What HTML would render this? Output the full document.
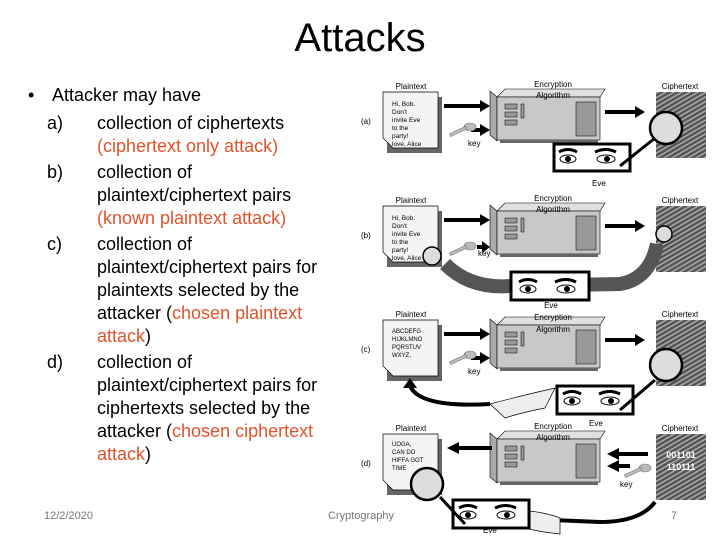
<!DOCTYPE html>
<html><head><style>
body{margin:0;width:720px;height:540px;background:#fff;overflow:hidden;font-family:"Liberation Sans",sans-serif}
</style></head><body>
<svg width="720" height="540" xmlns="http://www.w3.org/2000/svg" font-family="Liberation Sans, sans-serif">
<defs>
<pattern id="cp" width="4" height="4" patternUnits="userSpaceOnUse" patternTransform="rotate(-30)">
<rect width="4" height="4" fill="#555"/><rect width="4" height="1.5" fill="#aaa"/></pattern>
<g id="mach">
<polygon points="497,97 505,89 605,89 600,97" fill="#e0e0e0" stroke="#000" stroke-width="0.6"/>
<polygon points="497,97 490,91 490,135 497,141" fill="#aaa" stroke="#000" stroke-width="0.6"/>
<rect x="497" y="97" width="103" height="43" fill="#c8c8c8" stroke="#000" stroke-width="0.6"/>
<rect x="505" y="104" width="12" height="5" fill="#999" stroke="#000" stroke-width="0.5"/>
<rect x="505" y="112" width="12" height="5" fill="#999" stroke="#000" stroke-width="0.5"/>
<rect x="505" y="120" width="12" height="5" fill="#999" stroke="#000" stroke-width="0.5"/>
<rect x="521" y="104" width="3" height="14" fill="#999" stroke="#000" stroke-width="0.5"/>
<rect x="576" y="102" width="20" height="34" fill="#999" stroke="#000" stroke-width="0.5"/>
<rect x="500" y="140" width="98" height="3" fill="#666"/>
</g>
<g id="eyes">
<ellipse cx="0" cy="0" rx="8" ry="4" fill="#fff" stroke="#000"/><circle cx="0" cy="0" r="3" fill="#000"/>
<path d="M-9,-7 Q0,-12 9,-7" stroke="#000" stroke-width="3" fill="none"/>
<ellipse cx="38" cy="0" rx="9" ry="4" fill="#fff" stroke="#000"/><circle cx="39" cy="0" r="3" fill="#000"/>
<path d="M27,-7 Q38,-12 48,-7" stroke="#000" stroke-width="3" fill="none"/>
</g>
<g id="keyg" fill="#bbb" stroke="#777" stroke-width="0.6">
<ellipse cx="15" cy="-8" rx="6" ry="4"/><rect x="-6" y="-5" width="18" height="3" transform="rotate(-25 3 -4)"/>
</g>
</defs>

<text x="360" y="51" font-size="40" text-anchor="middle">Attacks</text>
<g font-size="18" fill="#000">
<text x="28" y="101">•</text><text x="52" y="101">Attacker may have</text>
<text x="47" y="129">a)</text><text x="97" y="129">collection of ciphertexts</text>
<text x="97" y="152" fill="#e0532b">(ciphertext only attack)</text>
<text x="47" y="178">b)</text><text x="97" y="178">collection of</text>
<text x="97" y="201">plaintext/ciphertext pairs</text>
<text x="97" y="224" fill="#e0532b">(known plaintext attack)</text>
<text x="47" y="250">c)</text><text x="97" y="250">collection of</text>
<text x="97" y="273">plaintext/ciphertext pairs for</text>
<text x="97" y="296">plaintexts selected by the</text>
<text x="97" y="319">attacker (<tspan fill="#e0532b">chosen plaintext</tspan></text>
<text x="97" y="342"><tspan fill="#e0532b">attack</tspan>)</text>
<text x="47" y="368">d)</text><text x="97" y="368">collection of</text>
<text x="97" y="391">plaintext/ciphertext pairs for</text>
<text x="97" y="414">ciphertexts selected by the</text>
<text x="97" y="437">attacker (<tspan fill="#e0532b">chosen ciphertext</tspan></text>
<text x="97" y="460"><tspan fill="#e0532b">attack</tspan>)</text>
</g>
<text x="44" y="519" font-size="11" fill="#777">12/2/2020</text>
<text x="361" y="519" font-size="11" fill="#777" text-anchor="middle">Cryptography</text>
<text x="674" y="519" font-size="11" fill="#777" text-anchor="middle">7</text>

<g font-size="8">
<!-- a -->
<use href="#mach"/>
<text x="411" y="89" text-anchor="middle">Plaintext</text>
<text x="361" y="124">(a)</text>
<rect x="387" y="97" width="55" height="56" fill="#666"/>
<polygon points="383,92 438,92 438,148 393,148 383,138" fill="#f4f4f4" stroke="#000" stroke-width="0.7"/>
<text font-size="6.5"><tspan x="392" y="106">Hi, Bob.</tspan><tspan x="392" y="114">Don't</tspan><tspan x="392" y="122">invite Eve</tspan><tspan x="392" y="130">to the</tspan><tspan x="392" y="138">party!</tspan><tspan x="392" y="146">love, Alice</tspan></text>
<text x="553" y="87" text-anchor="middle">Encryption</text>
<text x="553" y="98" text-anchor="middle">Algorithm</text>
<text x="680" y="89" text-anchor="middle">Ciphertext</text>
<path d="M444,106 H482" stroke="#000" stroke-width="4"/><polygon points="480,100 490,106 480,112"/>
<path d="M471,130 H482" stroke="#000" stroke-width="4"/><polygon points="480,124 490,130 480,136"/>
<g transform="translate(455,135)"><use href="#keyg"/></g>
<text x="468" y="146">key</text>
<path d="M605,112 H637" stroke="#000" stroke-width="4"/><polygon points="635,106 645,112 635,118"/>
<rect x="656" y="92" width="50" height="66" fill="url(#cp)"/>
<rect x="554" y="144" width="76" height="27" fill="#fff" stroke="#000" stroke-width="3"/>
<g transform="translate(568,159)"><use href="#eyes"/></g>
<path d="M620,166 L655,138" stroke="#000" stroke-width="3"/>
<circle cx="666" cy="128" r="16" fill="#ddd" stroke="#000" stroke-width="2.5"/>
<text x="592" y="186">Eve</text>

<!-- b -->
<g transform="translate(0,114)">
<use href="#mach"/>
<text x="411" y="89" text-anchor="middle">Plaintext</text>
<text x="361" y="124">(b)</text>
<rect x="387" y="97" width="55" height="56" fill="#666"/>
<polygon points="383,92 438,92 438,148 393,148 383,138" fill="#f4f4f4" stroke="#000" stroke-width="0.7"/>
<text font-size="6.5"><tspan x="392" y="106">Hi, Bob.</tspan><tspan x="392" y="114">Don't</tspan><tspan x="392" y="122">invite Eve</tspan><tspan x="392" y="130">to the</tspan><tspan x="392" y="138">party!</tspan><tspan x="392" y="146">love, Alice</tspan></text>
<text x="553" y="87" text-anchor="middle">Encryption</text>
<text x="553" y="98" text-anchor="middle">Algorithm</text>
<text x="680" y="89" text-anchor="middle">Ciphertext</text>
<path d="M444,106 H482" stroke="#000" stroke-width="4"/><polygon points="480,100 490,106 480,112"/>
<path d="M477,133 H484" stroke="#000" stroke-width="4"/><polygon points="482,127 490,133 482,139"/>
<g transform="translate(455,140)"><use href="#keyg"/></g>
<text x="478" y="142">key</text>
<path d="M605,112 H637" stroke="#000" stroke-width="4"/><polygon points="635,106 645,112 635,118"/>
<rect x="656" y="92" width="50" height="66" fill="url(#cp)"/>
<path d="M445,150 Q470,175 510,172 L620,170 Q650,165 657,130" stroke="#555" stroke-width="14" fill="none"/>
<rect x="511" y="158" width="78" height="28" fill="#fff" stroke="#000" stroke-width="3"/>
<g transform="translate(528,175)"><use href="#eyes"/></g>
<circle cx="432" cy="142" r="9" fill="#ddd" stroke="#000" stroke-width="1.5"/>
<circle cx="664" cy="120" r="8" fill="#ddd" stroke="#000" stroke-width="1.5"/>
</g>

<!-- c -->
<g transform="translate(0,228)">
<use href="#mach"/>
<text x="411" y="89" text-anchor="middle">Plaintext</text>
<text x="361" y="124">(c)</text>
<rect x="387" y="97" width="55" height="56" fill="#666"/>
<polygon points="383,92 438,92 438,148 393,148 383,138" fill="#f4f4f4" stroke="#000" stroke-width="0.7"/>
<text font-size="6"><tspan x="392" y="105">ABCDEFG</tspan><tspan x="392" y="113">HIJKLMNO</tspan><tspan x="392" y="121">PQRSTUV</tspan><tspan x="392" y="129">WXYZ.</tspan></text>
<text x="551" y="80" text-anchor="middle">Eve</text>
<text x="553" y="92" text-anchor="middle">Encryption</text>
<text x="553" y="104" text-anchor="middle">Algorithm</text>
<text x="680" y="89" text-anchor="middle">Ciphertext</text>
<path d="M444,106 H482" stroke="#000" stroke-width="4"/><polygon points="480,100 490,106 480,112"/>
<path d="M471,130 H482" stroke="#000" stroke-width="4"/><polygon points="480,124 490,130 480,136"/>
<g transform="translate(455,135)"><use href="#keyg"/></g>
<text x="468" y="146">key</text>
<path d="M605,112 H637" stroke="#000" stroke-width="4"/><polygon points="635,106 645,112 635,118"/>
<rect x="656" y="92" width="50" height="66" fill="url(#cp)"/>
<path d="M410,158 Q420,180 490,176" stroke="#000" stroke-width="4" fill="none"/>
<polygon points="403,160 410,150 417,160"/>
<path d="M490,176 Q520,168 555,160 L545,180 Q520,185 505,190 Z" fill="#eee" stroke="#000" stroke-width="0.7"/>
<rect x="557" y="158" width="76" height="28" fill="#fff" stroke="#000" stroke-width="3"/>
<g transform="translate(572,173)"><use href="#eyes"/></g>
<path d="M620,182 L655,152" stroke="#000" stroke-width="3"/>
<circle cx="666" cy="137" r="16" fill="#ddd" stroke="#000" stroke-width="2.5"/>
<text x="589" y="198">Eve</text>
</g>

<!-- d -->
<g transform="translate(0,342)">
<use href="#mach"/>
<text x="411" y="89" text-anchor="middle">Plaintext</text>
<text x="361" y="124">(d)</text>
<rect x="387" y="97" width="55" height="56" fill="#666"/>
<polygon points="383,92 438,92 438,148 393,148 383,138" fill="#f4f4f4" stroke="#000" stroke-width="0.7"/>
<text font-size="6"><tspan x="392" y="104">UOGA,</tspan><tspan x="392" y="112">CAN DO</tspan><tspan x="392" y="120">HIFFA GOT</tspan><tspan x="392" y="128">TIME</tspan></text>
<text x="553" y="87" text-anchor="middle">Encryption</text>
<text x="553" y="98" text-anchor="middle">Algorithm</text>
<text x="680" y="89" text-anchor="middle">Ciphertext</text>
<path d="M457,106 H492" stroke="#000" stroke-width="4"/><polygon points="459,100 447,106 459,112"/>
<path d="M617,112 H648" stroke="#000" stroke-width="4"/><polygon points="619,106 607,112 619,118"/>
<path d="M617,124 H630" stroke="#000" stroke-width="4"/><polygon points="619,118 607,124 619,130"/>
<g transform="translate(630,134)"><use href="#keyg"/></g>
<text x="620" y="145">key</text>
<rect x="656" y="92" width="50" height="66" fill="url(#cp)"/>
<text x="681" y="116" font-size="9" font-weight="bold" fill="#fff" text-anchor="middle">001101</text>
<text x="681" y="128" font-size="9" font-weight="bold" fill="#fff" text-anchor="middle">110111</text>
<path d="M552,178 L600,180 Q640,180 655,160" stroke="#000" stroke-width="4" fill="none"/>
<path d="M520,168 Q545,170 560,176 L560,192 Q540,190 520,185 Z" fill="#eee" stroke="#000" stroke-width="0.7"/>
<rect x="453" y="158" width="76" height="28" fill="#fff" stroke="#000" stroke-width="3"/>
<g transform="translate(468,173)"><use href="#eyes"/></g>
<path d="M440,155 L465,182" stroke="#000" stroke-width="3"/>
<circle cx="427" cy="142" r="16" fill="#ddd" stroke="#000" stroke-width="2.5"/>
<text x="483" y="191">Eve</text>
</g>
</g>
</svg>
</body></html>
